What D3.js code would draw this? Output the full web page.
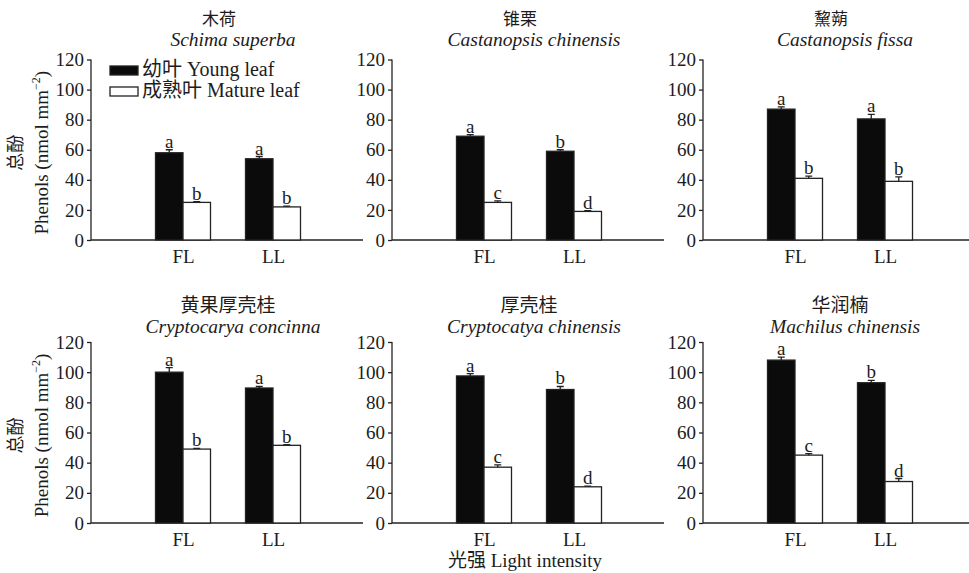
<!DOCTYPE html>
<html>
<head>
<meta charset="utf-8">
<script src="https://cdn.jsdelivr.net/npm/d3@7/dist/d3.min.js"></script>
<style>
  body { margin: 0; background: #fff; }
  svg text { font-family: "Liberation Serif", "Times New Roman", "Noto Sans CJK SC", serif; fill: #1c1c1c; }
</style>
</head>
<body>
<div id="chart"></div>
<script>
// data
var cnNames = ["木荷", "锥栗", "黧蒴", "黄果厚壳桂", "厚壳桂", "华润楠"]
var latinNames = ["Schima superba", "Castanopsis chinensis", "Castanopsis fissa",
                  "Cryptocarya concinna", "Cryptocatya chinensis", "Machilus chinensis"]
var lights = ["FL", "LL"]
var series = ["young", "mature"]
var youngMeans = [[58, 54], [69, 59], [87, 80.5], [100, 89.5], [97.5, 88.5], [108, 93]]
var youngErr = [[2, 1.5], [1, 1], [1.5, 3], [3, 1], [1.5, 2], [2, 1.5]]
var matureMeans = [[25, 22], [25, 19], [41, 39], [49, 51.5], [37, 24], [45, 27.5]]
var matureErr = [[0.5, 0.5], [1, 0.5], [1.5, 3], [0.5, 0.5], [1.5, 0.5], [1, 2]]
var youngLetters = [["a", "a"], ["a", "b"], ["a", "a"], ["a", "a"], ["a", "b"], ["a", "b"]]
var matureLetters = [["b", "b"], ["c", "d"], ["b", "b"], ["b", "b"], ["c", "d"], ["c", "d"]]
var yTicks = [0, 20, 40, 60, 80, 100, 120]
var legendLabels = ["幼叶 Young leaf", "成熟叶 Mature leaf"]

var width = 969
var height = 573
var axisLeft = [91, 392, 703]
var rowTop = [59.5, 342]
var rowBottom = [240, 523]
var axisLen = 272
var fillOf = {young: "#0b0b0b", mature: "#ffffff"}

var svg = d3.select("#chart").append("svg")
    .attr("width", width)
    .attr("height", height)

function drawPanel(i){
  var row = Math.floor(i / 3), col = i % 3
  var x0 = axisLeft[col]
  var g = svg.append("g").attr("transform", "translate(" + x0 + ",0)")

  var y = d3.scaleLinear().domain([0, 120]).range([rowBottom[row], rowTop[row]])
  var x = d3.scalePoint().domain(lights).range([92, 182])
  var xs = d3.scaleBand().domain(series).range([-27.5, 27.5])

  // y axis
  var ya = g.append("g").call(d3.axisLeft(y).tickValues(yTicks).tickSize(4).tickPadding(3))
    .attr("font-family", null).attr("font-size", null)
  ya.select(".domain").attr("d", "M0," + y(120) + "V" + y(0)).attr("stroke", "#222").attr("stroke-width", 1.3)
  ya.selectAll(".tick line").attr("stroke", "#222").attr("stroke-width", 1.3)
  ya.selectAll(".tick text").attr("font-size", 19).attr("fill", "#1c1c1c")

  // x axis line, no ticks
  var xa = g.append("g").attr("transform", "translate(0," + y(0) + ")")
    .call(d3.axisBottom(x).tickSize(0).tickPadding(9))
    .attr("font-family", null).attr("font-size", null)
  xa.select(".domain").attr("d", "M0,0H" + axisLen).attr("stroke", "#222").attr("stroke-width", 1.3)
  xa.selectAll(".tick text").attr("font-size", 19).attr("dy", "0.75em").attr("fill", "#1c1c1c")

  var rows = []
  lights.forEach(function(l, j){
    rows.push({light: l, s: "young", v: youngMeans[i][j], e: youngErr[i][j], t: youngLetters[i][j]})
    rows.push({light: l, s: "mature", v: matureMeans[i][j], e: matureErr[i][j], t: matureLetters[i][j]})
  })

  var bars = g.selectAll("g.bar").data(rows).enter().append("g").attr("class", "bar")
  bars.append("rect")
    .attr("x", function(d){ return x(d.light) + xs(d.s) })
    .attr("y", function(d){ return y(d.v) })
    .attr("width", xs.bandwidth())
    .attr("height", function(d){ return y(0) - y(d.v) })
    .attr("fill", function(d){ return fillOf[d.s] })
    .attr("stroke", "#222")
    .attr("stroke-width", 1.3)

  // error bars (upper only)
  bars.append("path")
    .attr("d", function(d){
      var cx = x(d.light) + xs(d.s) + xs.bandwidth() / 2
      return "M" + cx + "," + y(d.v) + "V" + y(d.v + d.e) + "M" + (cx - 3.5) + "," + y(d.v + d.e) + "H" + (cx + 3.5)
    })
    .attr("stroke", "#222")
    .attr("stroke-width", 1.3)
    .attr("fill", "none")

  bars.append("text")
    .attr("x", function(d){ return x(d.light) + xs(d.s) + xs.bandwidth() / 2 })
    .attr("y", function(d){ return y(d.v + d.e) - 2 })
    .attr("text-anchor", "middle")
    .attr("font-size", 19)
    .text(function(d){ return d.t })

  // titles
  g.append("text")
    .attr("x", row == 0 ? 128 : 137)
    .attr("y", row == 0 ? 25 : 312)
    .attr("text-anchor", "middle")
    .attr("font-size", row == 0 ? 17 : 19)
    .text(cnNames[i])
  g.append("text")
    .attr("x", 142)
    .attr("y", row == 0 ? 46 : 333)
    .attr("text-anchor", "middle")
    .attr("font-size", 19.5)
    .attr("font-style", "italic")
    .text(latinNames[i])

  // y axis title for left column
  if(col == 0){
    var cy = (rowTop[row] + rowBottom[row]) / 2 + 3
    svg.append("text")
      .attr("transform", "translate(22," + cy + ") rotate(-90)")
      .attr("text-anchor", "middle")
      .attr("font-size", 18)
      .text("总酚")
    var t = svg.append("text")
      .attr("transform", "translate(48," + cy + ") rotate(-90)")
      .attr("text-anchor", "middle")
      .attr("font-size", 19)
    t.append("tspan").text("Phenols (nmol mm")
    t.append("tspan").attr("font-size", 12).attr("dy", -8).text("−2")
    t.append("tspan").attr("dy", 8).text(")")
  }
}

for(var i = 0; i < 6; i++) drawPanel(i)

// legend in first panel
var legend = svg.append("g").attr("transform", "translate(110,66)")
series.forEach(function(s, k){
  var lg = legend.append("g").attr("transform", "translate(0," + (k * 21) + ")")
  lg.append("rect").attr("width", 28).attr("height", 9)
    .attr("fill", fillOf[s]).attr("stroke", "#222").attr("stroke-width", 1.3)
  lg.append("text").attr("x", 32).attr("y", 10).attr("font-size", 20).text(legendLabels[k])
})

// shared x title
svg.append("text")
  .attr("x", 525)
  .attr("y", 567)
  .attr("text-anchor", "middle")
  .attr("font-size", 19)
  .text("光强 Light intensity")
</script>
</body>
</html>
